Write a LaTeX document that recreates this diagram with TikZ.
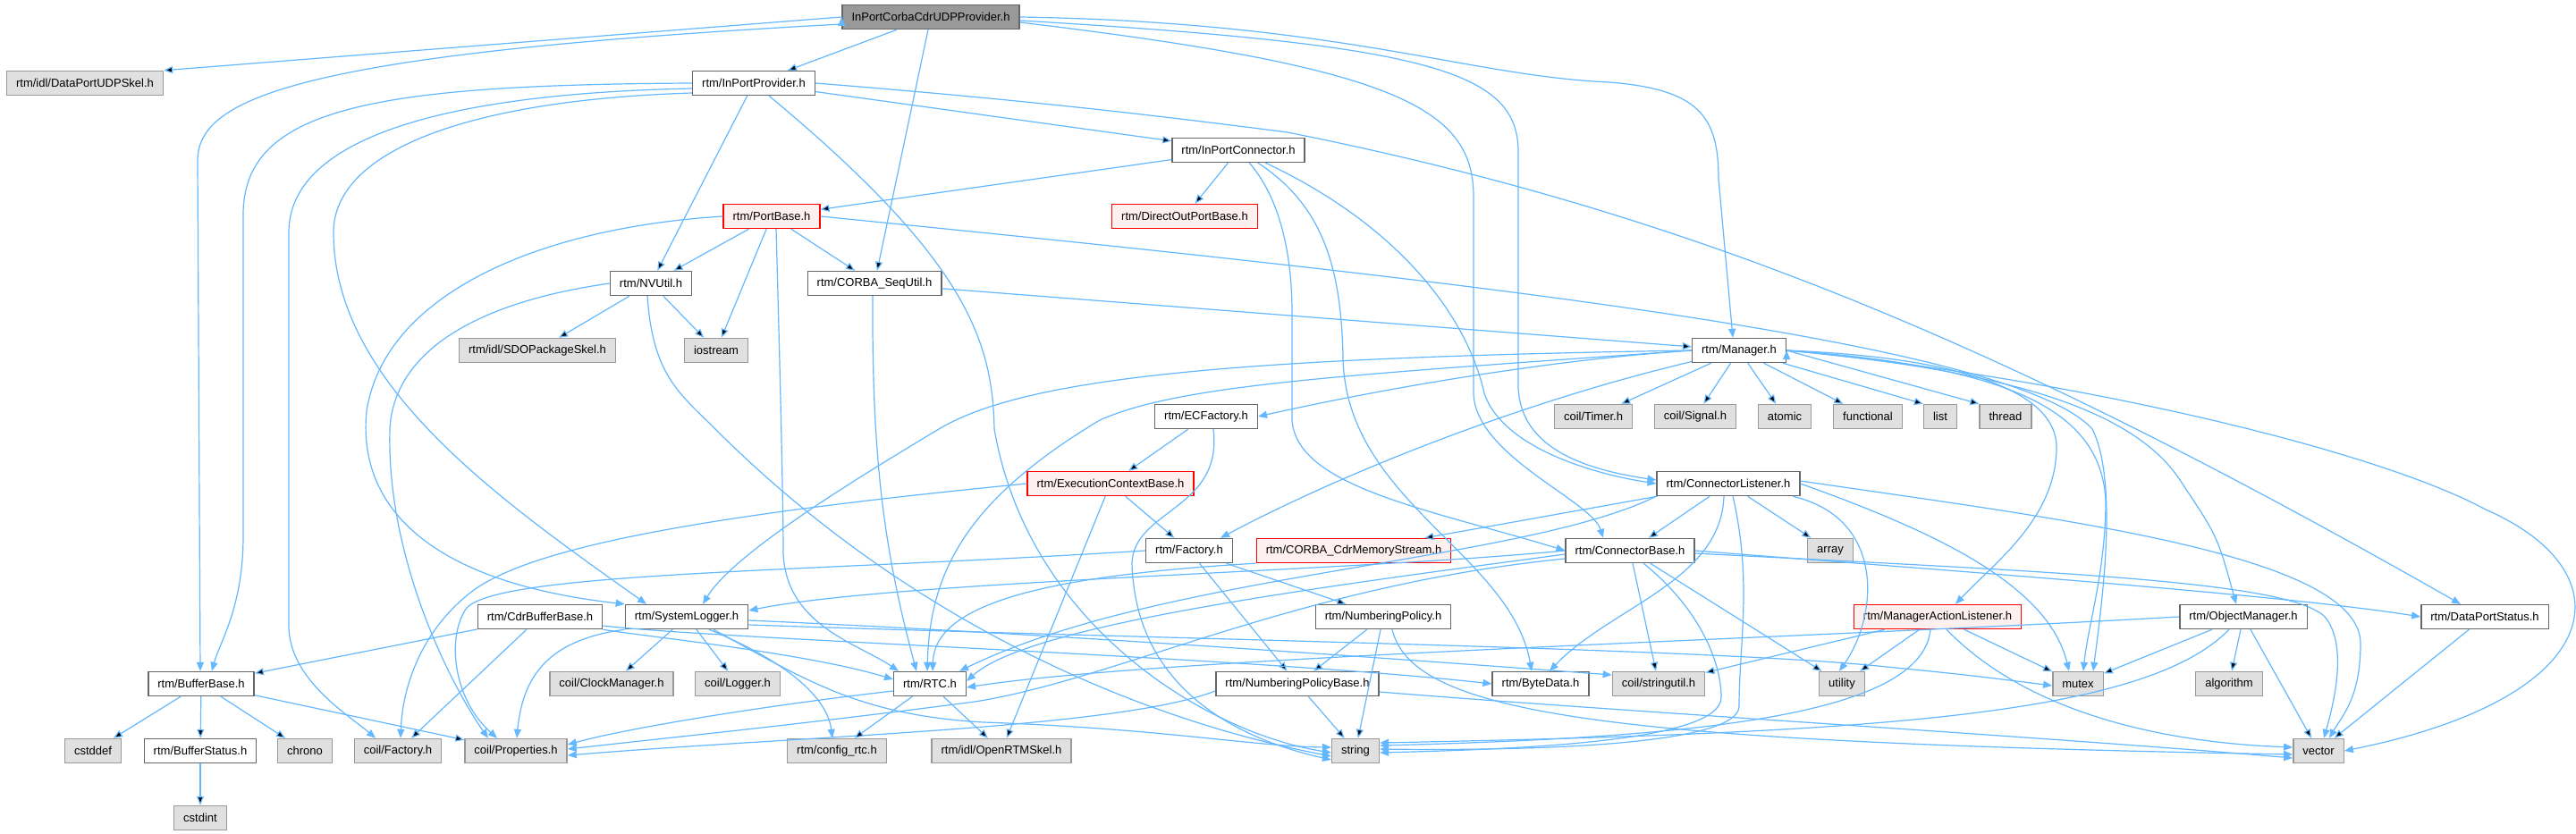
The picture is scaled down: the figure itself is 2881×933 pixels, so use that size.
\documentclass[tikz,border=0pt]{standalone}
\usepackage{fontspec}
\setmainfont{Liberation Sans}
\usetikzlibrary{arrows.meta}

\definecolor{edgeblue}{HTML}{63B8FF}
\definecolor{boxline}{HTML}{666666}
\definecolor{sysline}{HTML}{999999}
\definecolor{sysfill}{HTML}{E0E0E0}
\definecolor{redline}{HTML}{FF0000}
\definecolor{redfill}{HTML}{FFF0F0}
\definecolor{mainfill}{HTML}{999999}

\begin{document}
\begin{tikzpicture}[x=1pt, y=-1pt, >={Triangle[length=10pt, width=8pt]},
	every node/.style={font=\fontsize{13}{15}\selectfont, minimum height=27pt,
		inner xsep=10.5pt, inner ysep=0pt, line width=1.4pt},
	file/.style={draw=boxline, fill=white},
	sys/.style={draw=sysline, fill=sysfill},
	redfile/.style={draw=redline, fill=redfill},
	mainfile/.style={draw=boxline, fill=mainfill},
	inc/.style={->, draw=edgeblue, line width=1.2pt}]

	\fill[white] (0,0) rectangle (2881,933);
	\useasboundingbox (0,0) rectangle (2881,933);

	% Nodes, row by row
	\node [mainfile] (prov)         at (1041,19)  {InPortCorbaCdrUDPProvider.h};
	\node [sys]      (udpskel)      at (95,93)    {rtm/idl/DataPortUDPSkel.h};
	\node [file]     (inprov)       at (843,93)   {rtm/InPortProvider.h};
	\node [file]     (inconn)       at (1385,168) {rtm/InPortConnector.h};
	\node [redfile]  (portbase)     at (863,242)  {rtm/PortBase.h};
	\node [redfile]  (directout)    at (1325,242) {rtm/DirectOutPortBase.h};
	\node [file]     (nvutil)       at (728,317)  {rtm/NVUtil.h};
	\node [file]     (sequtil)      at (978,317)  {rtm/CORBA\_SeqUtil.h};
	\node [sys]      (sdoskel)      at (601,392)  {rtm/idl/SDOPackageSkel.h};
	\node [sys]      (iostream)     at (801,392)  {iostream};
	\node [file]     (manager)      at (1945,392) {rtm/Manager.h};
	\node [file]     (ecfactory)    at (1349,466) {rtm/ECFactory.h};
	\node [sys]      (timer)        at (1782,466) {coil/Timer.h};
	\node [sys]      (signal)       at (1896,466) {coil/Signal.h};
	\node [sys]      (atomic)       at (1996,466) {atomic};
	\node [sys]      (functional)   at (2089,466) {functional};
	\node [sys]      (list)         at (2170,466) {list};
	\node [sys]      (thread)       at (2243,466) {thread};
	\node [redfile]  (ecbase)       at (1242,541) {rtm/ExecutionContextBase.h};
	\node [file]     (connlistener) at (1933,541) {rtm/ConnectorListener.h};
	\node [file]     (factory)      at (1330,616) {rtm/Factory.h};
	\node [redfile]  (cdrstream)    at (1514,616) {rtm/CORBA\_CdrMemoryStream.h};
	\node [file]     (connbase)     at (1823,616) {rtm/ConnectorBase.h};
	\node [sys]      (array)        at (2047,616) {array};
	\node [file]     (cdrbuffer)    at (604,690)  {rtm/CdrBufferBase.h};
	\node [file]     (syslogger)    at (768,690)  {rtm/SystemLogger.h};
	\node [file]     (numpolicy)    at (1547,690) {rtm/NumberingPolicy.h};
	\node [redfile]  (mgrlistener)  at (2167,690) {rtm/ManagerActionListener.h};
	\node [file]     (objmanager)   at (2509,690) {rtm/ObjectManager.h};
	\node [file]     (portstatus)   at (2779,690) {rtm/DataPortStatus.h};
	\node [file]     (bufferbase)   at (225,765)  {rtm/BufferBase.h};
	\node [sys]      (clockmgr)     at (684,765)  {coil/ClockManager.h};
	\node [sys]      (logger)       at (825,765)  {coil/Logger.h};
	\node [file]     (rtc)          at (1040,765) {rtm/RTC.h};
	\node [file]     (numbase)      at (1451,765) {rtm/NumberingPolicyBase.h};
	\node [file]     (bytedata)     at (1723,765) {rtm/ByteData.h};
	\node [sys]      (stringutil)   at (1855,765) {coil/stringutil.h};
	\node [sys]      (utility)      at (2060,765) {utility};
	\node [sys]      (mutex)        at (2324,765) {mutex};
	\node [sys]      (algorithm)    at (2493,765) {algorithm};
	\node [sys]      (cstddef)      at (104,840)  {cstddef};
	\node [file]     (bufstatus)    at (224,840)  {rtm/BufferStatus.h};
	\node [sys]      (chrono)       at (341,840)  {chrono};
	\node [sys]      (coilfactory)  at (445,840)  {coil/Factory.h};
	\node [sys]      (properties)   at (577,840)  {coil/Properties.h};
	\node [sys]      (configrtc)    at (936,840)  {rtm/config\_rtc.h};
	\node [sys]      (rtmskel)      at (1120,840) {rtm/idl/OpenRTMSkel.h};
	\node [sys]      (string)       at (1516,840) {string};
	\node [sys]      (vector)       at (2593,840) {vector};
	\node [sys]      (cstdint)      at (224,915)  {cstdint};

	% Paths from the provider itself
	\path [inc] (prov.west) edge (udpskel.north east) (prov) edge (inprov) (prov) edge (sequtil);
	\draw [inc] ([yshift=-8pt]prov.west) .. controls (330,60) and (221,110) .. (221,180) -- ([xshift=-1pt]bufferbase.north);
	\draw [inc] (prov.east) .. controls (1500,25) and (1640,85) .. (1800,92) .. controls (1900,100) and (1922,130) .. (1922,200) -- ([xshift=-7pt]manager.north);
	\draw [inc] ([yshift=-4pt]prov.east) .. controls (1600,50) and (1698,80) .. (1698,170) -- (1698,430) .. controls (1698,500) and (1770,525) .. ([yshift=4pt]connlistener.west);
	\draw [inc] ([yshift=-6pt]prov.east) .. controls (1560,75) and (1648,120) .. (1648,220) -- (1648,440) .. controls (1650,510) and (1780,560) .. ([xshift=-30pt]connbase.north);

	% InPortProvider
	\path [inc] (inprov) edge (inconn) (inprov) edge (nvutil);
	\draw [inc] (inprov.west) .. controls (420,95) and (272,120) .. (272,240) -- (272,600) .. controls (272,680) and (245,720) .. ([xshift=12pt]bufferbase.north);
	\draw [inc] ([yshift=-6pt]inprov.west) .. controls (480,105) and (323,160) .. (323,260) -- (323,700) .. controls (323,760) and (390,800) .. ([xshift=-25pt]coilfactory.north);
	\draw [inc] ([yshift=-11pt]inprov.west) .. controls (520,112) and (373,170) .. (373,260) .. controls (373,430) and (560,560) .. ([xshift=-45pt]syslogger.north);
	\draw [inc] (inprov) .. controls (1080,290) and (1110,380) .. (1112,480) .. controls (1150,700) and (1350,820) .. ([yshift=-2pt]string.west);
	\draw [inc] (inprov.east) .. controls (1150,112) and (1300,130) .. (1440,148) .. controls (1900,240) and (2250,390) .. ([xshift=-27pt]portstatus.north);

	% InPortConnector
	\path [inc] (inconn) edge (portbase) (inconn) edge (directout);
	\draw [inc] (inconn) .. controls (1560,250) and (1640,350) .. (1660,440) .. controls (1680,500) and (1780,530) .. (connlistener.west);
	\draw [inc] (inconn) .. controls (1430,220) and (1445,280) .. (1445,350) -- (1445,470) .. controls (1450,545) and (1600,570) .. (connbase.west);
	\draw [inc] (inconn) .. controls (1480,230) and (1500,300) .. (1502,400) .. controls (1505,560) and (1690,620) .. ([xshift=-10pt]bytedata.north);

	% PortBase
	\path [inc] (portbase) edge (nvutil) (portbase) edge (iostream) (portbase) edge (sequtil);
	\draw [inc] ([xshift=5pt]portbase.south) .. controls (872,400) and (876,560) .. (876,620) .. controls (880,700) and (960,720) .. ([xshift=-35pt]rtc.north);
	\draw [inc] (portbase.west) .. controls (600,255) and (430,330) .. (410,460) .. controls (400,560) and (470,650) .. (syslogger.north west);
	\draw [inc] (portbase.east) .. controls (1600,310) and (2250,380) .. (2340,480) .. controls (2370,540) and (2350,680) .. ([xshift=17pt]mutex.north);

	% NVUtil
	\path [inc] (nvutil) edge (sdoskel) (nvutil) edge (iostream);
	\draw [inc] ([xshift=-4pt]nvutil.south) .. controls (730,420) and (760,440) .. (800,480) .. controls (1000,680) and (1250,800) .. ([yshift=-6pt]string.west);
	\draw [inc] (nvutil.west) .. controls (520,340) and (440,400) .. (436,480) .. controls (432,620) and (500,760) .. ([xshift=-31pt]properties.north);

	% CORBA_SeqUtil
	\path [inc] (sequtil) edge (manager);
	\draw [inc] ([xshift=-2pt]sequtil.south) .. controls (975,520) and (990,620) .. ([xshift=-15pt]rtc.north);

	% Manager
	\path [inc] (manager) edge (timer) (manager) edge (signal) (manager) edge (atomic)
		(manager) edge (functional) (manager) edge (list.north west) (manager.east) edge (thread.north west);
	\draw [inc] (manager.west) .. controls (1700,405) and (1500,445) .. (ecfactory.east);
	\draw [inc] (manager.west) .. controls (1400,400) and (1150,420) .. (1050,480) .. controls (950,540) and (820,620) .. ([xshift=18pt]syslogger.north);
	\draw [inc] (manager.west) .. controls (1500,420) and (1320,430) .. (1230,470) .. controls (1080,560) and (1040,640) .. ([xshift=-3pt]rtc.north);
	\draw [inc] (manager) .. controls (1700,450) and (1500,530) .. ([xshift=35pt]factory.north);
	\draw [inc] (manager.east) .. controls (2200,400) and (2300,440) .. (2300,500) .. controls (2300,580) and (2230,630) .. ([xshift=20pt]mgrlistener.north);
	\draw [inc] (manager.east) .. controls (2250,410) and (2350,460) .. (2355,560) .. controls (2355,640) and (2335,700) .. ([xshift=6pt]mutex.north);
	\draw [inc] (manager.east) .. controls (2250,415) and (2390,460) .. (2440,540) .. controls (2480,600) .. ([xshift=-8pt]objmanager.north);
	\draw [inc] (manager.east) .. controls (2300,420) and (2650,500) .. (2780,570) .. controls (2940,640) and (2920,780) .. (vector.east);

	% ECFactory and ExecutionContextBase
	\path [inc] (ecfactory) edge (ecbase) (ecbase) edge (factory) (ecbase) edge (rtmskel);
	\draw [inc] ([xshift=8pt]ecfactory.south) .. controls (1368,570) and (1268,570) .. (1266,630) .. controls (1270,780) and (1400,830) .. ([yshift=-10pt]string.west);
	\draw [inc] (ecbase.west) .. controls (800,575) and (600,610) .. (530,660) .. controls (470,705) and (450,770) .. ([xshift=3pt]coilfactory.north);

	% ConnectorListener
	\path [inc] (connlistener) edge (cdrstream) (connlistener) edge (connbase) (connlistener) edge (array);
	\draw [inc] ([xshift=-5pt]connlistener.south) .. controls (1925,650) and (1800,680) .. ([xshift=10pt]bytedata.north);
	\draw [inc] ([xshift=5pt]connlistener.south) .. controls (1960,650) and (1945,720) .. (1945,790) .. controls (1945,835) and (1700,840) .. ([yshift=2pt]string.east);
	\draw [inc] ([xshift=72pt]connlistener.south) .. controls (2110,580) and (2100,690) .. ([xshift=-3pt]utility.north);
	\draw [inc] (connlistener.east) .. controls (2150,590) and (2290,650) .. ([xshift=-10pt]mutex.north);
	\draw [inc] ([yshift=3pt]connlistener.east) .. controls (2300,580) and (2640,620) .. (2640,720) .. controls (2640,780) and (2620,800) .. ([xshift=12pt]vector.north);
	\draw [inc] (connlistener.south west) .. controls (1700,630) and (1300,640) .. ([xshift=-8pt]rtc.north east);

	% ConnectorBase
	\path [inc] (connbase) edge (stringutil) (connbase) edge (utility);
	\draw [inc] (connbase.west) .. controls (1500,640) and (1000,650) .. ([yshift=7pt]syslogger.east);
	\draw [inc] ([yshift=-4pt]connbase.west) .. controls (1450,660) and (1150,700) .. ([yshift=3pt]rtc.east);
	\draw [inc] ([yshift=-9pt]connbase.west) .. controls (1450,655) and (1250,760) .. (1090,785) .. controls (900,810) and (750,825) .. ([yshift=2pt]properties.east);
	\draw [inc] ([xshift=15pt]connbase.south) .. controls (1900,680) and (1925,740) .. (1925,780) .. controls (1925,830) and (1700,838) .. ([yshift=-2pt]string.east);
	\draw [inc] (connbase.east) .. controls (2200,640) and (2550,665) .. (portstatus.west);
	\draw [inc] ([yshift=-3pt]connbase.east) .. controls (2300,640) and (2560,650) .. (2600,690) .. controls (2625,720) and (2612,780) .. ([xshift=6pt]vector.north);

	% ManagerActionListener, ObjectManager, DataPortStatus
	\path [inc] (mgrlistener) edge (stringutil) (mgrlistener) edge (utility) (mgrlistener) edge (mutex)
		(objmanager) edge (mutex) (objmanager) edge (algorithm) (objmanager) edge (vector)
		(portstatus) edge (vector);
	\draw [inc] ([xshift=-8pt]mgrlistener.south) .. controls (2150,800) and (1900,825) .. ([yshift=6pt]string.east);
	\draw [inc] ([xshift=10pt]mgrlistener.south) .. controls (2260,790) and (2400,830) .. ([yshift=4pt]vector.west);
	\draw [inc] ([xshift=-16pt]objmanager.south) .. controls (2400,800) and (2100,820) .. ([yshift=9pt]string.east);
	\draw [inc] (objmanager.west) .. controls (2000,715) and (1300,735) .. ([yshift=-4pt]rtc.east);

	% Factory and numbering policies
	\path [inc] (factory) edge (numpolicy) (factory) edge (numbase)
		(numpolicy) edge (numbase) (numpolicy) edge (string) (numbase) edge (string);
	\draw [inc] (factory.west) .. controls (900,640) and (560,640) .. (522,680) .. controls (500,710) and (505,780) .. ([xshift=-21pt]properties.north);
	\draw [inc] ([xshift=10pt]numpolicy.south) .. controls (1580,800) and (1800,830) .. ([yshift=-4pt]vector.west);
	\draw [inc] ([yshift=-9pt]numbase.east) .. controls (1800,795) and (2300,825) .. ([yshift=-8pt]vector.west);
	\draw [inc] ([yshift=-8pt]numbase.west) .. controls (1250,815) and (900,823) .. ([yshift=-5pt]properties.east);

	% CORBA_CdrMemoryStream
	\draw [inc] (cdrstream.south west) .. controls (1150,645) and (1045,680) .. ([xshift=3pt]rtc.north);

	% CdrBufferBase and BufferBase
	\path [inc] (cdrbuffer) edge (bufferbase) (cdrbuffer) edge (coilfactory)
		(bufferbase) edge (cstddef) (bufferbase) edge (bufstatus) (bufferbase) edge (chrono)
		(bufferbase) edge (properties) (bufstatus) edge (cstdint);
	\draw [inc] (cdrbuffer.south east) .. controls (720,712) and (900,730) .. ([yshift=5pt]rtc.west);
	\draw [inc] ([yshift=-10pt]cdrbuffer.east) .. controls (800,715) and (1400,735) .. (bytedata.west);

	% RTC
	\path [inc] (rtc) edge (configrtc) (rtc) edge (rtmskel);
	\draw [inc] ([yshift=-8pt]rtc.west) .. controls (850,790) and (700,815) .. ([yshift=7pt]properties.east);

	% SystemLogger
	\path [inc] (syslogger) edge (clockmgr) (syslogger) edge (logger);
	\draw [inc] ([xshift=25pt]syslogger.south) .. controls (880,740) and (925,780) .. ([xshift=-5pt]configrtc.north);
	\draw [inc] ([xshift=30pt]syslogger.south) .. controls (900,760) and (960,800) .. (1100,808) .. controls (1300,815) and (1400,835) .. ([yshift=4pt]string.west);
	\draw [inc] (syslogger.south west) .. controls (620,715) and (585,750) .. ([xshift=1pt]properties.north);
	\draw [inc] ([yshift=-4pt]syslogger.east) .. controls (1200,710) and (1600,740) .. ([yshift=10pt]stringutil.west);
	\draw [inc] ([yshift=-9pt]syslogger.east) .. controls (1300,715) and (1900,725) .. (2100,745) .. controls (2200,755) .. ([yshift=-2pt]mutex.west);

\end{tikzpicture}
\end{document}
